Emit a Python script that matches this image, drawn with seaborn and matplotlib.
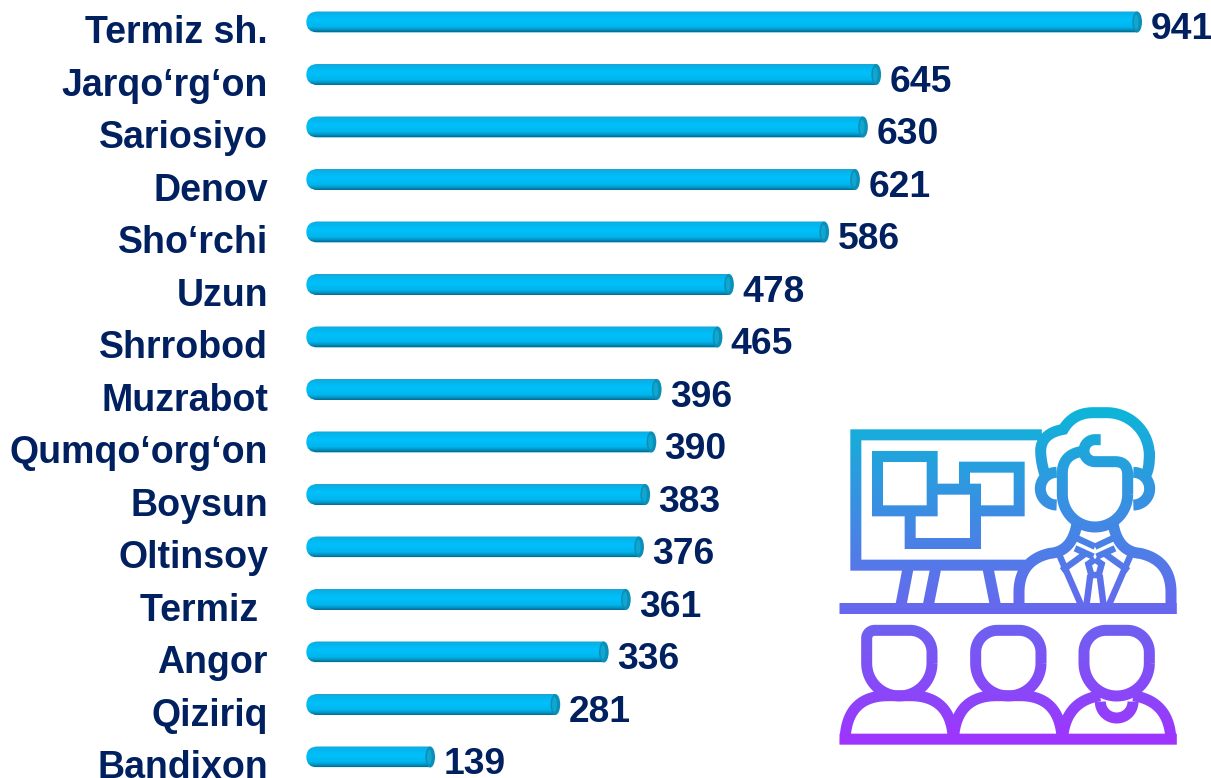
import numpy as np
import pandas as pd
import matplotlib
matplotlib.use("Agg")
import matplotlib.pyplot as plt
import seaborn as sns
from matplotlib.colors import LinearSegmentedColormap, to_rgb
from matplotlib.path import Path
from matplotlib.patches import PathPatch, Ellipse
from matplotlib.backends.backend_agg import FigureCanvasAgg
from matplotlib.figure import Figure

districts = ["Termiz sh.", "Jarqo‘rg‘on", "Sariosiyo", "Denov", "Sho‘rchi", "Uzun", "Shrrobod",
             "Muzrabot", "Qumqo‘org‘on", "Boysun", "Oltinsoy", "Termiz ", "Angor", "Qiziriq", "Bandixon"]
counts = [941, 645, 630, 621, 586, 478, 465, 396, 390, 383, 376, 361, 336, 281, 139]

W, H = 1211, 778
NAVY = "#002060"
sns.set_theme(style="white")
plt.rcParams["font.family"] = ["Liberation Sans", "DejaVu Sans"]
plt.rcParams["font.weight"] = "bold"

fig = plt.figure(figsize=(W / 100, H / 100), dpi=100, facecolor="white")
ax = fig.add_axes([0, 0, 1, 1])
df = pd.DataFrame({"district": districts, "count": counts})
sns.barplot(data=df, x="count", y="district", orient="h", width=0.4, color="#00B4E8", ax=ax)
ax.set_xlim(-312.5 / 0.8815, (W - 312.5) / 0.8815)
ax.set_ylim((H - 22) / 52.5, -22 / 52.5)
ax.autoscale(False)
ax.axis("off")

bar_cmap = LinearSegmentedColormap.from_list("bar", [
    (0.00, "#2a9fc8"), (0.06, "#06b0e6"), (0.40, "#00c0fb"), (0.75, "#00b6ee"),
    (0.90, "#0394c2"), (1.00, "#046a92")])
grad = np.linspace(0, 1, 64).reshape(-1, 1)
cap = 7.0
end = 5.5
for patch, name, val in zip(ax.patches, districts, counts):
    x0, x1 = patch.get_x(), patch.get_x() + patch.get_width()
    top, bot = patch.get_y(), patch.get_y() + patch.get_height()
    mid = (top + bot) / 2
    shape = Path(
        [(x1 - end, top), (x0 + 6, top), (x0 - cap, top), (x0 - cap, mid), (x0 - cap, bot), (x0 + 6, bot),
         (x1 - end, bot), (x1 - end, top)],
        [Path.MOVETO, Path.LINETO, Path.CURVE3, Path.CURVE3, Path.CURVE3, Path.CURVE3, Path.LINETO, Path.CLOSEPOLY])
    clip = PathPatch(shape, transform=ax.transData, fc="none", ec="none")
    ax.add_patch(clip)
    patch.set_clip_path(clip)
    im = ax.imshow(grad, cmap=bar_cmap, aspect="auto", extent=(x0 - cap, x1, bot, top),
                   origin="upper", zorder=3, interpolation="bilinear")
    im.set_clip_path(clip)
    ax.add_patch(Ellipse((x1 - end, mid), 2 * end, bot - top, fc="#0a8fb8", ec="none", zorder=4))
    ax.add_patch(Ellipse((x1 - end - 1, mid), end, (bot - top) * 0.7, fc="#10a6cf", ec="none", zorder=4))
    ax.annotate(str(val), (x1, mid), xytext=(6, -5.5), textcoords="offset points", ha="left", va="center",
                fontsize=26.8, fontweight="bold", color=NAVY, zorder=5)
    ax.annotate(name, (x0, mid), xytext=(-32, -8.2), textcoords="offset points", ha="right", va="center",
                fontsize=27, fontweight="bold", color=NAVY, zorder=5)


# ---- presenter / audience pictogram (decoration), in a 1080-unit square ----
def arc(cx, cy, r, a0, a1, n=40):
    t = np.radians(np.linspace(a0, a1, n))
    return list(zip(cx + r * np.cos(t), cy + r * np.sin(t)))


def head(cx, square_left=False):
    l, r, t, c = cx - 98, cx + 98, 691, 790
    pts = arc(cx, c, 98, 0, 180)
    if square_left:
        pts += [(l, 715)] + arc(l + 24, 715, 24, 180, 270)
    else:
        pts += arc(l + 66, 757, 66, 180, 270)
    pts += arc(r - 66, 757, 66, 270, 360) + [(r, c)]
    return pts


def curve(p0, p1, p2, n=30):
    t = np.linspace(0, 1, n)[:, None]
    a = (1 - t) ** 2 * np.array(p0) + 2 * t * (1 - t) * np.array(p1) + t ** 2 * np.array(p2)
    return [tuple(q) for q in a]


thick = [
    [(635, 104), (77, 104), (77, 495), (592, 495)],
    [(28, 625), (1040, 625)],
    [(235, 500), (212, 620)], [(318, 500), (294, 620)], [(473, 500), (497, 620)],
    [(142, 169), (306, 169), (306, 332), (142, 332), (142, 169), (306, 169)],
    [(306, 267), (436, 267), (436, 430), (240, 430), (240, 332)],
    [(403, 267), (403, 201), (567, 201), (567, 332), (436, 332)],
    # presenter head, hair, ears
    arc(795, 283, 98, 0, 180) + [(697, 215)] + curve((697, 215), (700, 165), (752, 155)),
    [(893, 283), (893, 225)] + curve((893, 225), (893, 185), (855, 185)) + [(795, 185)]
    + arc(795, 152, 33, 90, 270) + [(812, 119)],
    curve((645, 225), (632, 185), (632, 150)) + curve((632, 150), (635, 100), (700, 88))
    + curve((700, 88), (730, 38), (790, 38)) + [(830, 38)] + arc(830, 166, 128, 270, 365)
    + curve((958, 177), (958, 205), (945, 232)),
    arc(680, 266, 49, 90, 270),
    arc(910, 266, 49, -90, 90),
    # presenter body
    [(567, 612), (567, 572)] + curve((567, 572), (570, 480), (660, 460)) + curve((660, 460), (725, 455), (740, 375)),
    [(1023, 612), (1023, 572)] + curve((1023, 572), (1020, 480), (930, 460)) + curve((930, 460), (865, 455), (850, 375)),
    # audience
    head(208, True), head(535), head(860),
    [(28, 1017), (1040, 1017)],
    curve((45, 1030), (45, 887), (175, 887)) + [(240, 887)] + curve((240, 887), (370, 887), (370, 1030)),
    curve((370, 1030), (372, 887), (500, 887)) + [(570, 887)] + curve((570, 887), (695, 887), (697, 1030)),
    curve((697, 1030), (700, 905), (810, 887)),
    curve((910, 887), (1023, 905), (1023, 1030)),
    arc(860, 905, 49, 0, 180),
]
thin = [
    [(795, 440), (735, 412)], [(795, 440), (855, 412)],
    [(688, 465), (752, 612)], [(902, 465), (838, 612)],
    [(695, 512), (770, 458)], [(895, 512), (820, 458)],
    [(735, 445), (790, 470)], [(855, 445), (800, 470)],
    [(795, 478), (815, 492), (806, 525), (784, 525), (775, 492), (795, 478)],
    [(781, 525), (770, 610)], [(809, 525), (820, 610)],
]

S = 1080
off = Figure(figsize=(S / 100, S / 100), dpi=100, facecolor="white")
oax = off.add_axes([0, 0, 1, 1])
oax.set_xlim(0, S)
oax.set_ylim(S, 0)
oax.axis("off")
for group, lw in ((thick, 23.8), (thin, 14)):
    for pts in group:
        oax.add_patch(PathPatch(Path(pts), fc="none", ec="black", lw=lw, capstyle="butt", joinstyle="miter"))
canvas = FigureCanvasAgg(off)
canvas.draw()
ink = 1 - np.asarray(canvas.buffer_rgba())[:, :, 0] / 255.0
alpha = ink.reshape(360, 3, 360, 3).mean(axis=(1, 3))

stops = [to_rgb(c) for c in ("#0CB6D8", "#5A74EA", "#A033FF")]
icon_cmap = LinearSegmentedColormap.from_list("icon", stops)
ramp = np.clip((np.arange(360) - 7) / (345 - 7), 0, 1)
rgba = icon_cmap(np.repeat(ramp[:, None], 360, axis=1))
rgba[:, :, 3] = alpha
iax = fig.add_axes([830 / W, 1 - 760 / H, 360 / W, 360 / H], zorder=6)
iax.imshow(rgba, aspect="auto", interpolation="none")
iax.axis("off")

fig.savefig("out.png", dpi=100, facecolor="white")
